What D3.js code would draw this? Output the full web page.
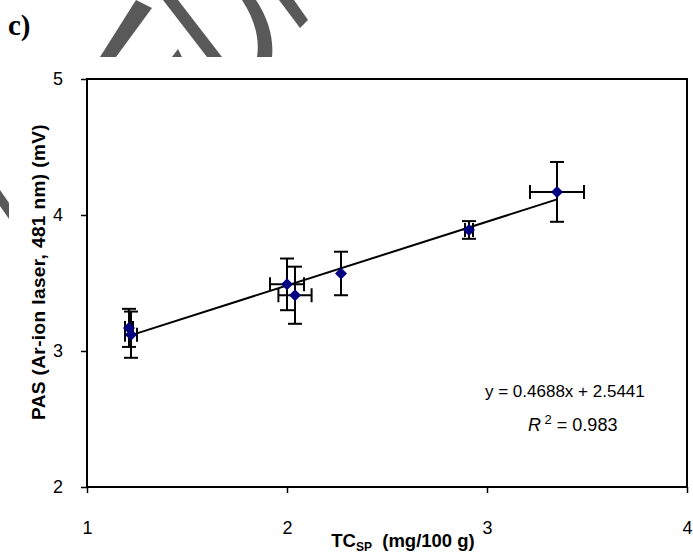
<!DOCTYPE html>
<html>
<head>
<meta charset="utf-8">
<script src="https://cdn.jsdelivr.net/npm/d3@7"></script>
<style>
  body { margin: 0; background: #fff; }
  svg { display: block; font-family: Arial, "Liberation Sans", sans-serif; }
</style>
</head>
<body>
<svg id="chart" width="693" height="556"></svg>
<script>
// data
var tcValues  = [1.21, 1.22, 2.00, 2.04, 2.27, 2.91, 3.35];
var pasValues = [3.17, 3.12, 3.49, 3.41, 3.57, 3.89, 4.17];
var pasErrors = [0.14, 0.17, 0.19, 0.21, 0.16, 0.065, 0.22];
var tcErrors  = [0.02, 0.03, 0.085, 0.083, 0, 0.02, 0.135];
var xTicks = [1, 2, 3, 4];
var yTicks = [2, 3, 4, 5];
var slope = 0.4688, intercept = 2.5441, rSquared = 0.983;

var svg = d3.select("#chart"),
    margin = {top: 79, right: 6, bottom: 69, left: 87},
    width = 693 - margin.left - margin.right,
    height = 556 - margin.top - margin.bottom;

var x = d3.scaleLinear().domain([1, 4]).range([margin.left, margin.left + width]);
var y = d3.scaleLinear().domain([2, 5]).range([margin.top + height, margin.top]);

// watermark strokes
var wm = svg.append("g").attr("fill", "#595959");
wm.append("path").attr("d", "M100,57 L116,57 L152,8 L136,0 Z");
wm.append("path").attr("d", "M163,0 L178,0 L222,57 L207,57 Z");
wm.append("path").attr("d", "M172,57 L178,49 L182,57 Z");
wm.append("path").attr("d", "M242,0 L256,0 C268,18 274,38 272,57 L257,57 C260,38 254,18 242,0 Z");
wm.append("path").attr("d", "M279,0 L294,0 L308,20 L300,28 Z");
wm.append("path").attr("d", "M0,190 L9,203 L9,219 L0,206 Z");

// panel label
svg.append("text")
    .attr("x", 8).attr("y", 35)
    .style("font-family", "'Liberation Serif', 'Times New Roman', serif")
    .style("font-weight", "bold")
    .style("font-size", "29px")
    .text("c)");

// axes
var xAxis = d3.axisBottom(x).tickValues(xTicks).tickSize(6).tickPadding(28).tickFormat(d3.format("d"));
var yAxis = d3.axisLeft(y).tickValues(yTicks).tickSize(6).tickPadding(18).tickFormat(d3.format("d"));

svg.append("g")
    .attr("transform", "translate(0," + (margin.top + height) + ")")
    .call(xAxis)
    .call(g => g.select(".domain").remove())
    .call(g => g.selectAll("line").attr("stroke-width", 1.5))
    .call(g => g.selectAll("text").style("font-size", "18px").attr("fill", "#000"));

svg.append("g")
    .attr("transform", "translate(" + margin.left + ",0)")
    .call(yAxis)
    .call(g => g.select(".domain").remove())
    .call(g => g.selectAll("line").attr("stroke-width", 1.5))
    .call(g => g.selectAll("text").style("font-size", "18px").attr("fill", "#000"));

// plot frame
svg.append("rect")
    .attr("x", margin.left).attr("y", margin.top)
    .attr("width", width).attr("height", height)
    .attr("fill", "none").attr("stroke", "#000").attr("stroke-width", 2);

// axis titles
var xt = svg.append("text")
    .attr("x", 403).attr("y", 547)
    .attr("text-anchor", "middle")
    .style("font-weight", "bold").style("font-size", "18.5px");
xt.append("tspan").text("TC");
xt.append("tspan").attr("dy", 4).style("font-size", "12px").text("SP");
xt.append("tspan").attr("dy", -4).text("\u00a0 (mg/100 g)");

svg.append("text")
    .attr("transform", "translate(45,272) rotate(-90)")
    .attr("text-anchor", "middle")
    .attr("letter-spacing", "0.4px")
    .style("font-weight", "bold").style("font-size", "19px")
    .text("PAS (Ar-ion laser, 481 nm) (mV)");

var data = tcValues.map(function(d, i) {
  return {x: d, y: pasValues[i], ey: pasErrors[i], ex: tcErrors[i]};
});

// trend line over the data range
var xmin = d3.min(tcValues), xmax = d3.max(tcValues);
svg.append("line")
    .attr("x1", x(xmin)).attr("y1", y(slope * xmin + intercept))
    .attr("x2", x(xmax)).attr("y2", y(slope * xmax + intercept))
    .attr("stroke", "#000").attr("stroke-width", 2);

// error bars
var cap = 7;
var bars = svg.append("g").attr("stroke", "#000").attr("stroke-width", 2);
data.forEach(function(d) {
  bars.append("line").attr("x1", x(d.x)).attr("x2", x(d.x)).attr("y1", y(d.y - d.ey)).attr("y2", y(d.y + d.ey));
  bars.append("line").attr("x1", x(d.x) - cap).attr("x2", x(d.x) + cap).attr("y1", y(d.y - d.ey)).attr("y2", y(d.y - d.ey));
  bars.append("line").attr("x1", x(d.x) - cap).attr("x2", x(d.x) + cap).attr("y1", y(d.y + d.ey)).attr("y2", y(d.y + d.ey));
  if (d.ex > 0) {
    bars.append("line").attr("x1", x(d.x - d.ex)).attr("x2", x(d.x + d.ex)).attr("y1", y(d.y)).attr("y2", y(d.y));
    bars.append("line").attr("x1", x(d.x - d.ex)).attr("x2", x(d.x - d.ex)).attr("y1", y(d.y) - cap).attr("y2", y(d.y) + cap);
    bars.append("line").attr("x1", x(d.x + d.ex)).attr("x2", x(d.x + d.ex)).attr("y1", y(d.y) - cap).attr("y2", y(d.y) + cap);
  }
});

// diamond markers
svg.append("g").selectAll("path")
    .data(data)
  .enter().append("path")
    .attr("d", d3.symbol().type(d3.symbolSquare).size(72))
    .attr("transform", function(d) { return "translate(" + x(d.x) + "," + y(d.y) + ") rotate(45)"; })
    .attr("fill", "#000080");

// equation
svg.append("text")
    .attr("x", x(2.99)).attr("y", y(2.66))
    .style("font-size", "17px")
    .text("y = " + slope + "x + " + intercept);

var r2 = svg.append("text")
    .attr("x", x(3.205)).attr("y", y(2.41))
    .style("font-size", "18px");
r2.append("tspan").style("font-style", "italic").text("R");
r2.append("tspan").attr("dy", -7).style("font-size", "13px").text(" 2");
r2.append("tspan").attr("dy", 7).text(" = " + rSquared);
</script>
</body>
</html>
